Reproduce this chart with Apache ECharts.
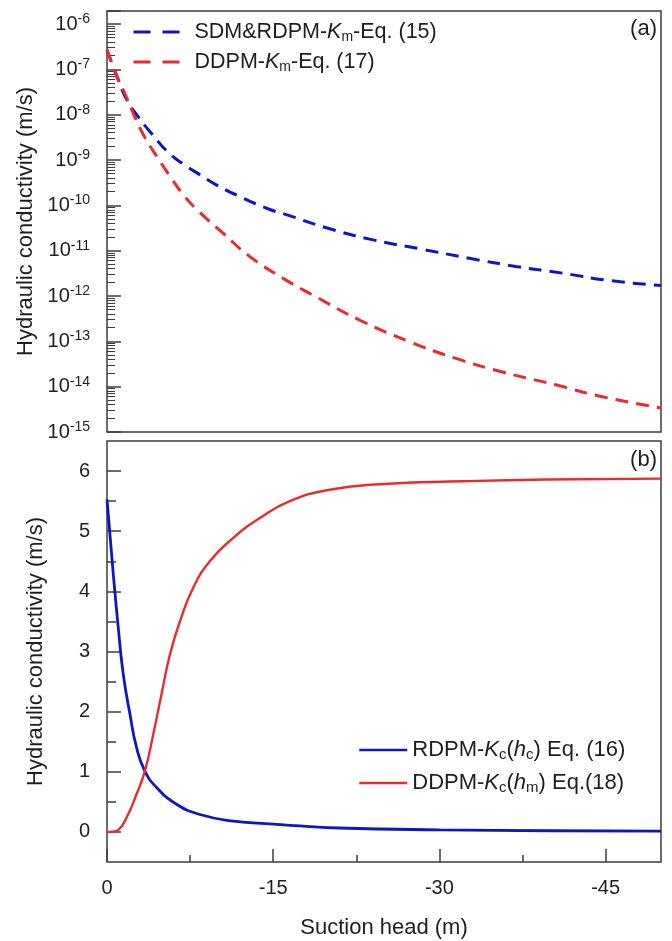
<!DOCTYPE html>
<html>
<head>
<meta charset="utf-8">
<script src="https://cdn.jsdelivr.net/npm/echarts@6/dist/echarts.min.js"></script>
<style>
html,body{margin:0;padding:0;background:#fff;}
#chart{width:672px;height:941px;}
</style>
</head>
<body>
<div id="chart"></div>
<script>
// ---------- data ----------
// (a) matrix hydraulic conductivity, log scale
const hKmSdm = [0, -0.9, -1.8, -2.8, -4.0, -5.5, -7.0, -8.4, -9.9, -12.0, -14.7, -15.9, -19.8, -23.7, -28.5, -32.7, -36.9, -41.1, -45.3, -50];
const kmSdm  = [2.7e-7, 7.0e-8, 2.1e-8, 9.1e-9, 3.9e-9, 1.5e-9, 7.8e-10, 4.7e-10, 2.8e-10, 1.55e-10, 8.1e-11, 6.6e-11, 3.2e-11, 1.8e-11, 1.07e-11, 6.8e-12, 4.5e-12, 3.2e-12, 2.2e-12, 1.7e-12];
const hKmDdpm = [0, -0.9, -1.6, -2.5, -3.4, -4.6, -5.8, -6.9, -8.1, -10.5, -12.9, -15.9, -18.9, -22.8, -27.3, -31.5, -35.7, -40.5, -44.7, -50];
const kmDdpm  = [2.7e-7, 6.9e-8, 2.95e-8, 9.1e-9, 3.2e-9, 1.1e-9, 4.0e-10, 1.7e-10, 8.1e-11, 2.4e-11, 7.4e-12, 2.45e-12, 9.5e-13, 2.95e-13, 9.8e-14, 4.2e-14, 2.1e-14, 1.1e-14, 6.0e-15, 3.4e-15];
// (b) crack hydraulic conductivity, linear scale
const hKcRdpm = [0, -0.57, -1.02, -1.47, -2.07, -2.67, -3.42, -4.47, -6.28, -8.38, -11.4, -15.0, -17.4, -21, -30, -40, -50];
const kcRdpm  = [5.53, 4.28, 3.39, 2.62, 1.96, 1.40, 1.01, 0.74, 0.46, 0.29, 0.18, 0.13, 0.10, 0.065, 0.035, 0.02, 0.015];
const hKcDdpm = [0, -0.5, -1.0, -1.77, -2.67, -3.42, -4.17, -4.92, -5.68, -6.58, -7.78, -9.28, -11.4, -13.8, -16.5, -20.1, -24.6, -32.1, -39.6, -50];
const kcDdpm  = [0, 0.005, 0.03, 0.24, 0.63, 1.01, 1.62, 2.29, 2.95, 3.50, 4.06, 4.50, 4.89, 5.22, 5.50, 5.69, 5.78, 5.83, 5.86, 5.875];

// tick values
const xMajorTicks = [0, -15, -30, -45];
const xMinorTicks = [-7.5, -22.5, -37.5];
const yLinMajorTicks = [0, 1, 2, 3, 4, 5, 6];
const yLinMinorTicks = [0.5, 1.5, 2.5, 3.5, 4.5, 5.5];
const logDecades = [-15, -14, -13, -12, -11, -10, -9, -8, -7, -6];
const logMinorMultipliers = [2, 3, 4, 5, 6, 7, 8, 9];

// legend names
const names = ['kmSdm', 'kmDdpm', 'kcRdpm', 'kcDdpm'];
const legendText = {
  kmSdm: 'SDM&RDPM-{i|K}{sub|m}-Eq. (15)',
  kmDdpm: 'DDPM-{i|K}{sub|m}-Eq. (17)',
  kcRdpm: 'RDPM-{i|K}{sub|c}({i|h}{sub|c}) Eq. (16)',
  kcDdpm: 'DDPM-{i|K}{sub|c}({i|h}{sub|m}) Eq.(18)'
};

// ---------- build ----------
const FONT = '"Liberation Sans", Arial, sans-serif';
const TXT = '#1e1e1e';
const FRAME = '#3c3c3c';
const BLUE = '#0b16c4';
const RED = '#ea2a2e';

function pairs(xs, ys) { return xs.map((x, i) => [x, ys[i]]); }

const logMinor = [];
logDecades.forEach(d => {
  if (d >= -6) return;
  logMinorMultipliers.forEach(m => logMinor.push(m * Math.pow(10, d)));
});

function richLegend(size, subSize) {
  return {
    i: { fontFamily: FONT, fontSize: size, fontStyle: 'italic', color: TXT, lineHeight: 24 },
    sub: { fontFamily: FONT, fontSize: subSize, color: TXT, verticalAlign: 'bottom', lineHeight: 8 }
  };
}

const chart = echarts.init(document.getElementById('chart'), null, { renderer: 'canvas' });

const hiddenLine = { show: false, onZero: false };

const option = {
  animation: false,
  backgroundColor: '#fff',
  textStyle: { fontFamily: FONT },
  grid: [
    { left: 107, top: 11, width: 554, height: 421, show: true, borderColor: FRAME, borderWidth: 1.5, backgroundColor: 'transparent' },
    { left: 107, top: 441, width: 554, height: 421, show: true, borderColor: FRAME, borderWidth: 1.5, backgroundColor: 'transparent' }
  ],
  xAxis: [
    { gridIndex: 0, type: 'value', min: -50, max: 0, inverse: true, position: 'bottom',
      axisLine: hiddenLine, axisTick: { show: false }, axisLabel: { show: false }, splitLine: { show: false } },
    { gridIndex: 1, type: 'value', min: -50, max: 0, inverse: true, position: 'bottom',
      axisLine: hiddenLine, splitLine: { show: false },
      axisTick: { show: true, inside: true, length: 13, customValues: xMajorTicks, lineStyle: { color: FRAME, width: 1.5 } },
      axisLabel: { show: true, customValues: xMajorTicks, margin: 16, fontSize: 20, fontFamily: FONT, color: TXT },
      name: 'Suction head (m)', nameLocation: 'middle', nameGap: 55,
      nameTextStyle: { fontSize: 22, fontFamily: FONT, color: TXT } },
    { gridIndex: 1, type: 'value', min: -50, max: 0, inverse: true, position: 'bottom',
      axisLine: hiddenLine, splitLine: { show: false }, axisLabel: { show: false },
      axisTick: { show: true, inside: true, length: 7, customValues: xMinorTicks, lineStyle: { color: FRAME, width: 1.5 } } }
  ],
  yAxis: [
    { gridIndex: 0, type: 'log', logBase: 10, min: 1e-15, max: 1.94e-6, position: 'left',
      axisLine: hiddenLine, splitLine: { show: false },
      axisTick: { show: true, inside: true, length: 14, lineStyle: { color: FRAME, width: 1.5 } },
      axisLabel: { show: true, margin: 17, color: TXT,
        formatter: function (v) {
          const e = Math.log10(v); const r = Math.round(e);
          if (Math.abs(e - r) > 1e-6 || logDecades.indexOf(r) < 0) return '';
          return '{b|10}{s|' + r + '}';
        },
        rich: {
          b: { fontFamily: FONT, fontSize: 20, color: TXT, lineHeight: 24 },
          s: { fontFamily: FONT, fontSize: 14, color: TXT, verticalAlign: 'top', lineHeight: 12 }
        } },
      name: 'Hydraulic conductivity (m/s)', nameLocation: 'middle', nameGap: 69,
      nameTextStyle: { fontSize: 22, fontFamily: FONT, color: TXT } },
    { gridIndex: 0, type: 'log', logBase: 10, min: 1e-15, max: 1.94e-6, position: 'left',
      axisLine: hiddenLine, splitLine: { show: false }, axisLabel: { show: false },
      axisTick: { show: true, inside: true, length: 8, customValues: logMinor, lineStyle: { color: FRAME, width: 1 } } },
    { gridIndex: 1, type: 'value', min: -0.5, max: 6.5, position: 'left',
      axisLine: hiddenLine, splitLine: { show: false },
      axisTick: { show: true, inside: true, length: 14, customValues: yLinMajorTicks, lineStyle: { color: FRAME, width: 1.5 } },
      axisLabel: { show: true, customValues: yLinMajorTicks, margin: 17, fontSize: 20, fontFamily: FONT, color: TXT },
      name: 'Hydraulic conductivity (m/s)', nameLocation: 'middle', nameGap: 60,
      nameTextStyle: { fontSize: 22, fontFamily: FONT, color: TXT } },
    { gridIndex: 1, type: 'value', min: -0.5, max: 6.5, position: 'left',
      axisLine: hiddenLine, splitLine: { show: false }, axisLabel: { show: false },
      axisTick: { show: true, inside: true, length: 9, customValues: yLinMinorTicks, lineStyle: { color: FRAME, width: 1.5 } } }
  ],
  legend: [
    { data: [names[0], names[1]], orient: 'vertical', left: 127, top: 15, itemGap: 6,
      itemWidth: 56, itemHeight: 14,
      itemStyle: { opacity: 0 },
      lineStyle: { type: [17, 12], width: 3 },
      formatter: n => legendText[n],
      textStyle: { fontFamily: FONT, fontSize: 21.5, color: TXT, lineHeight: 24, rich: richLegend(21.5, 14) } },
    { data: [names[2], names[3]], orient: 'vertical', left: 353, top: 733, itemGap: 9,
      itemWidth: 48, itemHeight: 14,
      itemStyle: { opacity: 0 },
      lineStyle: { width: 2.5 },
      formatter: n => legendText[n],
      textStyle: { fontFamily: FONT, fontSize: 22, color: TXT, lineHeight: 24, rich: richLegend(22, 15) } }
  ],
  graphic: [
    { type: 'text', x: 657, y: 29, style: { text: '(a)', font: '22px ' + FONT, fill: TXT, textAlign: 'right', textVerticalAlign: 'middle' } },
    { type: 'text', x: 657, y: 460, style: { text: '(b)', font: '22px ' + FONT, fill: TXT, textAlign: 'right', textVerticalAlign: 'middle' } }
  ],
  series: [
    { name: names[0], type: 'line', xAxisIndex: 0, yAxisIndex: 0, data: pairs(hKmSdm, kmSdm),
      symbol: 'none', smooth: 0.5, color: BLUE,
      lineStyle: { color: BLUE, width: 3, type: [13, 8] } },
    { name: names[1], type: 'line', xAxisIndex: 0, yAxisIndex: 0, data: pairs(hKmDdpm, kmDdpm),
      symbol: 'none', smooth: 0.5, color: RED,
      lineStyle: { color: RED, width: 3, type: [13, 8] } },
    { name: names[2], type: 'line', xAxisIndex: 1, yAxisIndex: 2, data: pairs(hKcRdpm, kcRdpm),
      symbol: 'none', smooth: 0.5, color: BLUE,
      lineStyle: { color: BLUE, width: 2.8 } },
    { name: names[3], type: 'line', xAxisIndex: 1, yAxisIndex: 2, data: pairs(hKcDdpm, kcDdpm),
      symbol: 'none', smooth: 0.5, color: RED,
      lineStyle: { color: RED, width: 2.4 } }
  ]
};
chart.setOption(option);
</script>
</body>
</html>
